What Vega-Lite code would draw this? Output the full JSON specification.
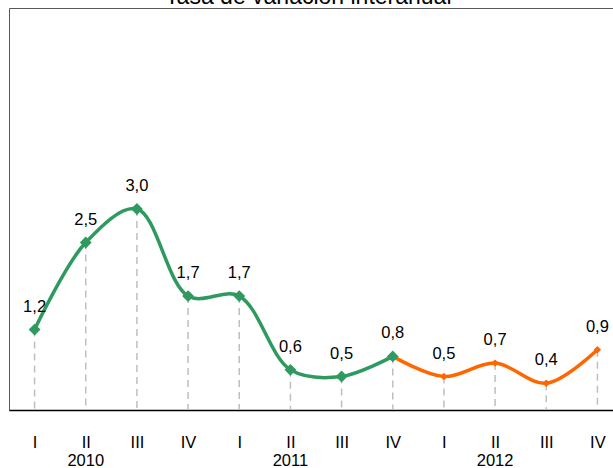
{
  "$schema": "https://vega.github.io/schema/vega-lite/v6.json",
  "autosize": "none",
  "width": 614,
  "height": 402,
  "padding": {"left": 9, "top": 8, "right": 0, "bottom": 58},
  "config": {
    "view": {"stroke": "#595959", "strokeWidth": 1},
    "font": "Liberation Sans",
    "locale": {"number": {"decimal": ",", "thousands": ".", "grouping": [3], "currency": ["", " €"]}}
  },
  "datasets": {
    "pts": [
      {"i": 0, "q": "I", "v": 1.2, "s": "a"},
      {"i": 1, "q": "II", "v": 2.5, "s": "a"},
      {"i": 2, "q": "III", "v": 3.0, "s": "a"},
      {"i": 3, "q": "IV", "v": 1.7, "s": "a"},
      {"i": 4, "q": "I", "v": 1.7, "s": "a"},
      {"i": 5, "q": "II", "v": 0.6, "s": "a"},
      {"i": 6, "q": "III", "v": 0.5, "s": "a"},
      {"i": 7, "q": "IV", "v": 0.8, "s": "a"},
      {"i": 8, "q": "I", "v": 0.5, "s": "b"},
      {"i": 9, "q": "II", "v": 0.7, "s": "b"},
      {"i": 10, "q": "III", "v": 0.4, "s": "b"},
      {"i": 11, "q": "IV", "v": 0.9, "s": "b"}
    ],
    "lines": [
      {"i": 0, "v": 1.2, "s": "a"},
      {"i": 1, "v": 2.5, "s": "a"},
      {"i": 2, "v": 3.0, "s": "a"},
      {"i": 3, "v": 1.7, "s": "a"},
      {"i": 4, "v": 1.7, "s": "a"},
      {"i": 5, "v": 0.6, "s": "a"},
      {"i": 6, "v": 0.5, "s": "a"},
      {"i": 7, "v": 0.8, "s": "a"},
      {"i": 7, "v": 0.8, "s": "b"},
      {"i": 8, "v": 0.5, "s": "b"},
      {"i": 9, "v": 0.7, "s": "b"},
      {"i": 10, "v": 0.4, "s": "b"},
      {"i": 11, "v": 0.9, "s": "b"}
    ],
    "years": [
      {"i": 1, "y": "2010"},
      {"i": 5, "y": "2011"},
      {"i": 9, "y": "2012"}
    ],
    "title": [
      {"i": 5.35, "t": "Tasa de variación interanual"}
    ]
  },
  "layer": [
    {
      "data": {"name": "pts"},
      "mark": {"type": "rule", "color": "#BFBFBF", "strokeWidth": 1.5, "strokeDash": [7, 5]},
      "encoding": {
        "x": {"field": "i", "type": "quantitative", "scale": {"domain": [-0.5, 11.5], "nice": false, "zero": false},
          "axis": {"values": [0,1,2,3,4,5,6,7,8,9,10,11], "labelExpr": "['I','II','III','IV'][datum.value % 4]", "title": null, "grid": false, "ticks": false, "domainColor": "#000000", "domainWidth": 1.5, "labelFontSize": 16.5, "labelColor": "#000000", "labelPadding": 24, "labelFont": "Liberation Sans", "labelFlush": false, "labelOverlap": false}},
        "y": {"field": "v", "type": "quantitative", "scale": {"domain": [0, 6], "nice": false}, "axis": null},
        "y2": {"datum": 0}
      }
    },
    {
      "data": {"name": "lines"},
      "mark": {"type": "line", "interpolate": "catmull-rom", "strokeWidth": 3.5},
      "encoding": {
        "x": {"field": "i", "type": "quantitative"},
        "y": {"field": "v", "type": "quantitative"},
        "color": {"field": "s", "type": "nominal", "scale": {"domain": ["a", "b"], "range": ["#2F9A60", "#FF6600"]}, "legend": null},
        "detail": {"field": "s"}
      }
    },
    {
      "data": {"name": "pts"},
      "mark": {"type": "point", "shape": "diamond", "filled": true, "opacity": 1},
      "encoding": {
        "x": {"field": "i", "type": "quantitative"},
        "y": {"field": "v", "type": "quantitative"},
        "color": {"field": "s", "type": "nominal", "legend": null},
        "size": {"field": "s", "type": "nominal", "scale": {"domain": ["a", "b"], "range": [140, 55]}, "legend": null}
      }
    },
    {
      "data": {"name": "pts"},
      "mark": {"type": "text", "fontSize": 16.5, "dy": -23, "color": "#000000", "font": "Liberation Sans"},
      "encoding": {
        "x": {"field": "i", "type": "quantitative"},
        "y": {"field": "v", "type": "quantitative"},
        "text": {"field": "v", "type": "quantitative", "format": ".1f"}
      }
    },
    {
      "data": {"name": "years"},
      "mark": {"type": "text", "fontSize": 16.5, "dy": 51, "baseline": "middle", "color": "#000000", "font": "Liberation Sans"},
      "encoding": {
        "x": {"field": "i", "type": "quantitative"},
        "y": {"datum": 0},
        "text": {"field": "y", "type": "nominal"}
      }
    },
    {
      "data": {"name": "title"},
      "mark": {"type": "text", "fontSize": 23, "dy": -4, "baseline": "alphabetic", "color": "#000000", "font": "Liberation Sans"},
      "encoding": {
        "x": {"field": "i", "type": "quantitative"},
        "y": {"datum": 6},
        "text": {"field": "t", "type": "nominal"}
      }
    }
  ]
}
